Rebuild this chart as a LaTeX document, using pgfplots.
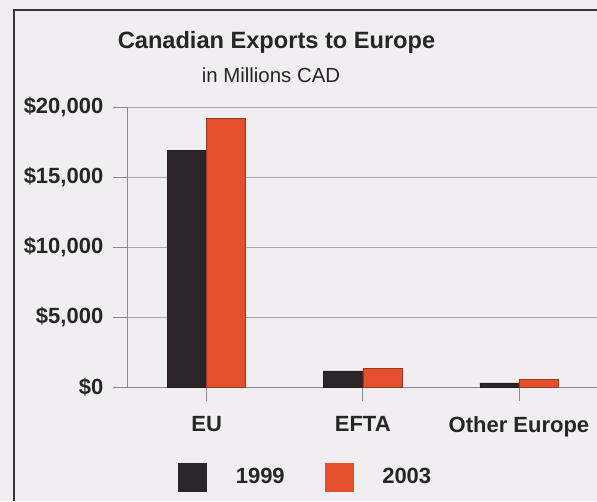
\documentclass[border=0pt]{standalone}
\usepackage{pgfplots}
\pgfplotsset{compat=1.18}
\usepackage{fontspec}
\setmainfont{Liberation Sans}
\definecolor{bg}{HTML}{F0EEF0}
\definecolor{bar99}{HTML}{2B2428}
\definecolor{bar03}{HTML}{E4502E}
\definecolor{gridc}{HTML}{ABA7AB}
\definecolor{axisc}{HTML}{8C888C}
\definecolor{framec}{HTML}{3A3638}

\begin{document}
\begin{tikzpicture}
% page: 597x501 px, 1px = 0.75pt
\fill[bg] (0pt,0pt) rectangle (447.75pt,-375.75pt);
\path[use as bounding box] (0pt,0pt) rectangle (447.75pt,-375.75pt);
\draw[framec, line width=1.6pt] (10.5pt,-376pt) -- (10.5pt,-7.5pt) -- (448pt,-7.5pt);

\node[anchor=base, font=\fontsize{17.7}{20}\selectfont\bfseries, text=black!85]
  at (207.4pt,-36.4pt) {Canadian Exports to Europe};
\node[anchor=base, font=\fontsize{15.3}{18}\selectfont, text=black!85]
  at (203.25pt,-61.5pt) {in Millions CAD};

\begin{axis}[
  at={(95.25pt,-290.25pt)}, anchor=south west,
  scale only axis, width=352.5pt, height=210pt,
  xmin=-0.51, xmax=2.5, ymin=0, ymax=20000,
  axis x line*=bottom, axis y line*=left,
  axis line style={axisc, line width=0.6pt},
  ymajorgrids, grid style={gridc, line width=0.6pt},
  xtick={0,1,2}, xticklabels={EU,EFTA,Other Europe},
  ytick={0,5000,10000,15000,20000},
  yticklabels={{\$0},{\$5,000},{\$10,000},{\$15,000},{\$20,000}},
  scaled y ticks=false,
  tick align=outside, major tick length=10.5pt,
  tick style={axisc, line width=0.6pt},
  ticklabel style={font=\fontsize{16.5}{18}\selectfont\bfseries, text=black!85},
  yticklabel style={xshift=-3.75pt},
  xticklabel style={yshift=-8.25pt},
  ybar, bar width=0.25,
  legend columns=2,
  legend style={at={(0.1085,-0.3214)}, anchor=west, draw=none, fill=none,
    inner sep=0pt, nodes={inner sep=0pt, font=\fontsize{16.5}{18}\selectfont\bfseries, text=black!85}},
  /tikz/every odd column/.style={column sep=21.75pt},
  /tikz/every even column/.style={column sep=30pt},
]
\addplot[fill=bar99, draw=bar99!80!black, line width=0.4pt, bar shift=-0.125,
  legend image code/.code={\fill[bar99] (0pt,-10.5pt) rectangle (21pt,10.5pt);}]
  coordinates {(0,16900) (1,1150) (2,300)};
\addplot[fill=bar03, draw=bar03!70!black, line width=0.4pt, bar shift=0.125,
  legend image code/.code={\fill[bar03] (0pt,-10.5pt) rectangle (21pt,10.5pt);}]
  coordinates {(0,19200) (1,1350) (2,550)};
\legend{1999,2003}
\end{axis}
\end{tikzpicture}
\end{document}
